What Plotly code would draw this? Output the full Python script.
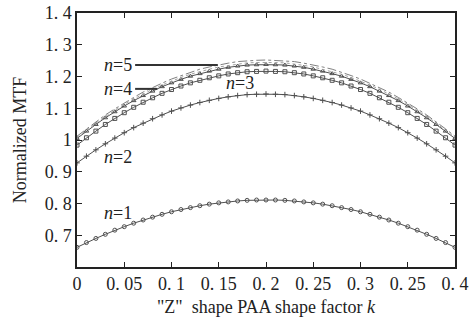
import plotly.graph_objects as go

k = [round(i * 0.01, 2) for i in range(41)]

half1 = [0.662, 0.677, 0.690, 0.703, 0.716, 0.727, 0.738, 0.748, 0.757, 0.766, 0.774,
         0.781, 0.787, 0.793, 0.798, 0.802, 0.805, 0.808, 0.810, 0.811]
half2 = [0.928, 0.949, 0.969, 0.988, 1.006, 1.023, 1.039, 1.053, 1.067, 1.079, 1.091,
         1.101, 1.110, 1.118, 1.125, 1.131, 1.136, 1.140, 1.143, 1.144]
half3 = [0.984, 1.007, 1.028, 1.049, 1.068, 1.086, 1.103, 1.119, 1.133, 1.147, 1.159,
         1.170, 1.180, 1.188, 1.196, 1.202, 1.208, 1.212, 1.215, 1.216]
half4 = [1.005, 1.028, 1.049, 1.070, 1.089, 1.107, 1.124, 1.140, 1.154, 1.168, 1.180,
         1.191, 1.201, 1.209, 1.217, 1.223, 1.229, 1.233, 1.236, 1.237]
half5 = [1.012, 1.035, 1.058, 1.079, 1.098, 1.117, 1.134, 1.151, 1.166, 1.179, 1.192,
         1.203, 1.214, 1.223, 1.230, 1.237, 1.242, 1.247, 1.250, 1.251]
halfd = [1.008, 1.031, 1.053, 1.074, 1.094, 1.112, 1.129, 1.145, 1.160, 1.173, 1.186,
         1.197, 1.207, 1.216, 1.223, 1.230, 1.235, 1.240, 1.243, 1.244]
peaks = [0.811, 1.145, 1.217, 1.238, 1.252, 1.245]

def full(h, p):
    return h + [p] + h[::-1]

mtf_n1 = full(half1, peaks[0])
mtf_n2 = full(half2, peaks[1])
mtf_n3 = full(half3, peaks[2])
mtf_n4 = full(half4, peaks[3])
mtf_n5 = full(half5, peaks[4])
mtf_dot = full(halfd, peaks[5])

x_tickvals = [0, 0.05, 0.1, 0.15, 0.2, 0.25, 0.3, 0.35, 0.4]
x_ticktext = ["0", "0. 05", "0. 1", "0. 15", "0. 2", "0. 25", "0. 3", "0. 25", "0. 4"]
y_tickvals = [0.6, 0.7, 0.8, 0.9, 1.0, 1.1, 1.2, 1.3, 1.4]
y_ticktext = ["", "0. 7", "0. 8", "0. 9", "1", "1. 1", "1. 2", "1. 3", "1. 4"]

FONT = "Liberation Serif"
LC = "#505050"
FS = 18

fig = go.Figure()
fig.add_trace(go.Scatter(x=k, y=mtf_n1, mode="lines+markers",
                         line=dict(color=LC, width=1),
                         marker=dict(symbol="circle-open", size=4, color=LC, line=dict(width=1))))
fig.add_trace(go.Scatter(x=k, y=mtf_n2, mode="lines+markers",
                         line=dict(color=LC, width=1),
                         marker=dict(symbol="cross-thin-open", size=4, color=LC, line=dict(width=1, color=LC))))
fig.add_trace(go.Scatter(x=k, y=mtf_n3, mode="lines+markers",
                         line=dict(color=LC, width=1),
                         marker=dict(symbol="square-open", size=4, color=LC, line=dict(width=1))))
fig.add_trace(go.Scatter(x=k, y=mtf_n4, mode="lines+markers",
                         line=dict(color=LC, width=1),
                         marker=dict(symbol="triangle-up-open", size=4, color=LC, line=dict(width=1))))
fig.add_trace(go.Scatter(x=k, y=mtf_dot, mode="lines",
                         line=dict(color="#a0a0a0", width=1, dash="dot")))
fig.add_trace(go.Scatter(x=k, y=mtf_n5, mode="lines",
                         line=dict(color="#808080", width=1, dash="dashdot")))

labels = [
    ("<i>n</i>=5", 0.0435, 1.236),
    ("<i>n</i>=4", 0.0435, 1.161),
    ("<i>n</i>=3", 0.1725, 1.178),
    ("<i>n</i>=2", 0.0435, 0.946),
    ("<i>n</i>=1", 0.0435, 0.770),
]
for txt, xx, yy in labels:
    fig.add_annotation(x=xx, y=yy, text=txt, showarrow=False,
                       font=dict(family=FONT, size=FS, color="#222"))

leaders = [(0.0615, 0.149, 1.236), (0.0615, 0.085, 1.161)]
for x0, x1, yy in leaders:
    fig.add_shape(type="line", x0=x0, x1=x1, y0=yy, y1=yy, xref="x", yref="y",
                  line=dict(color="#333", width=2))

fig.update_layout(
    width=470, height=322,
    margin=dict(l=77, r=15, t=13, b=55),
    paper_bgcolor="white", plot_bgcolor="white",
    showlegend=False,
    font=dict(family=FONT, size=FS, color="#222"),
)
fig.update_xaxes(range=[0, 0.4], tickvals=x_tickvals, ticktext=x_ticktext,
                 ticks="inside", ticklen=5, tickcolor="#222", tickwidth=1,
                 showline=True, linecolor="#222", linewidth=1.5, mirror="allticks",
                 showgrid=False, zeroline=False, automargin=False,
                 title=dict(text='"Z"  shape PAA shape factor <i>k</i>', font=dict(size=FS), standoff=7),
                 tickfont=dict(size=FS))
fig.update_yaxes(range=[0.6, 1.4], tickvals=y_tickvals, ticktext=y_ticktext,
                 ticks="inside", ticklen=5, tickcolor="#222", tickwidth=1,
                 showline=True, linecolor="#222", linewidth=1.5, mirror="allticks",
                 showgrid=False, zeroline=False, automargin=False,
                 title=dict(text="Normalized MTF", font=dict(size=FS), standoff=13),
                 tickfont=dict(size=FS))

fig.write_html("out.html", config={"displayModeBar": False},
               post_script="document.body.style.margin='0';document.body.style.overflow='hidden';")
